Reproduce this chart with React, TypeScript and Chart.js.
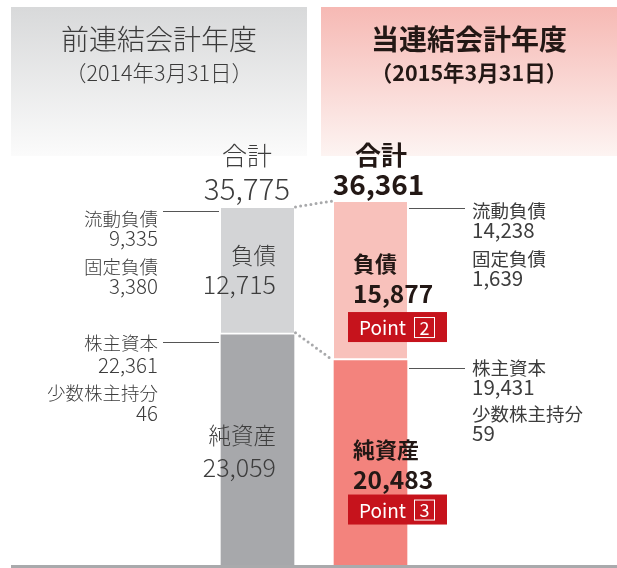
import React, { useEffect, useRef } from "react";
import { Chart, registerables } from "chart.js";

Chart.register(...registerables);

const periods = ["前連結会計年度", "当連結会計年度"];
const periodDates = ["（2014年3月31日）", "（2015年3月31日）"];
const liabilities = [12715, 15877];
const netAssets = [23059, 20483];
const totals = [35775, 36361];
const currentLiabilities = [9335, 14238];
const fixedLiabilities = [3380, 1639];
const shareholdersEquity = [22361, 19431];
const minorityInterests = [46, 59];
const pointNumbers = ["2", "3"];

const FONT = '"Noto Sans CJK JP", "Noto Sans", sans-serif';
const f = (size: number, weight = 400) => `${weight} ${size}px ${FONT}`;
const fmt = (n: number) => n.toLocaleString("en-US");

function txt(
  ctx: CanvasRenderingContext2D,
  s: string,
  x: number,
  y: number,
  font: string,
  color: string,
  align: CanvasTextAlign = "left"
) {
  ctx.save();
  ctx.font = font;
  ctx.fillStyle = color;
  ctx.textAlign = align;
  ctx.textBaseline = "middle";
  ctx.fillText(s, x, y);
  ctx.restore();
}

function hline(ctx: CanvasRenderingContext2D, x1: number, x2: number, y: number) {
  ctx.save();
  ctx.strokeStyle = "#555555";
  ctx.lineWidth = 1;
  ctx.beginPath();
  ctx.moveTo(x1, Math.round(y) + 0.5);
  ctx.lineTo(x2, Math.round(y) + 0.5);
  ctx.stroke();
  ctx.restore();
}

function dots(ctx: CanvasRenderingContext2D, x1: number, y1: number, x2: number, y2: number) {
  ctx.save();
  ctx.strokeStyle = "#a8a9ab";
  ctx.lineWidth = 3;
  ctx.lineCap = "round";
  ctx.setLineDash([0, 5.2]);
  ctx.beginPath();
  ctx.moveTo(x1, y1);
  ctx.lineTo(x2, y2);
  ctx.stroke();
  ctx.restore();
}

function pointBox(ctx: CanvasRenderingContext2D, x: number, y: number, num: string) {
  ctx.save();
  ctx.fillStyle = "#c6131c";
  ctx.fillRect(x, y, 99, 30);
  txt(ctx, "Point", x + 11, y + 16, f(19), "#ffffff");
  ctx.strokeStyle = "#ffffff";
  ctx.lineWidth = 1;
  ctx.strokeRect(x + 66.5, y + 5.5, 20, 20);
  txt(ctx, num, x + 76.5, y + 16, f(18), "#ffffff", "center");
  ctx.restore();
}

const decorPlugin = {
  id: "decor",
  beforeDraw(chart: any) {
    const ctx = chart.ctx as CanvasRenderingContext2D;
    const top = 7;
    const bottom = 156;
    let g = ctx.createLinearGradient(0, top, 0, bottom);
    g.addColorStop(0, "#d8d9da");
    g.addColorStop(1, "#fbfbfb");
    ctx.fillStyle = g;
    ctx.fillRect(11, top, 296, bottom - top);
    g = ctx.createLinearGradient(0, top, 0, bottom);
    g.addColorStop(0, "#f6b9b4");
    g.addColorStop(1, "#fdf4f2");
    ctx.fillStyle = g;
    ctx.fillRect(321, top, 296, bottom - top);

    txt(ctx, periods[0], 159, 39, f(28, 300), "#3a3a3a", "center");
    txt(ctx, periodDates[0], 159, 73, f(21.5, 300), "#3a3a3a", "center");
    txt(ctx, periods[1], 469, 39, f(28, 700), "#231815", "center");
    txt(ctx, periodDates[1], 469, 73, f(21.5, 700), "#231815", "center");
  },
  afterDatasetsDraw(chart: any) {
    const ctx = chart.ctx as CanvasRenderingContext2D;
    const na = chart.getDatasetMeta(0).data;
    const li = chart.getDatasetMeta(1).data;
    const area = chart.chartArea;

    // baseline
    ctx.save();
    ctx.fillStyle = "#a9aaac";
    ctx.fillRect(11, area.bottom, 606, 3);
    ctx.restore();

    const bars = [0, 1].map((i) => {
      const w = li[i].width;
      return {
        cx: li[i].x,
        left: li[i].x - w / 2,
        right: li[i].x + w / 2,
        top: li[i].y,
        split: na[i].y,
      };
    });
    const L = bars[0];
    const R = bars[1];

    // connectors
    dots(ctx, L.right + 1.5, L.top - 1, R.left - 2, R.top - 1);
    dots(ctx, L.right + 1.5, L.split - 2, R.left - 2, R.split - 1);

    const grey = "#3d3d3d";
    const dark = "#231815";

    // Left (previous year)
    txt(ctx, "合計", L.cx - 10.5, L.top - 52, f(25, 300), grey, "center");
    txt(ctx, fmt(totals[0]), L.cx - 10.5, L.top - 19, f(29.5, 300), grey, "center");
    const lx = L.left - 63;
    hline(ctx, L.left - 58, L.left - 2, L.top + 3);
    txt(ctx, "流動負債", lx, L.top + 11, f(18.5, 300), grey, "right");
    txt(ctx, fmt(currentLiabilities[0]), lx, L.top + 30, f(20.5, 300), grey, "right");
    txt(ctx, "固定負債", lx, L.top + 59, f(18.5, 300), grey, "right");
    txt(ctx, fmt(fixedLiabilities[0]), lx, L.top + 78, f(20.5, 300), grey, "right");
    txt(ctx, "負債", L.right - 18, L.top + 48, f(22.5, 300), grey, "right");
    txt(ctx, fmt(liabilities[0]), L.right - 18, L.top + 77, f(25, 300), grey, "right");

    hline(ctx, L.left - 58, L.left - 2, L.split + 7);
    txt(ctx, "株主資本", lx, L.split + 8, f(18.5, 300), grey, "right");
    txt(ctx, fmt(shareholdersEquity[0]), lx, L.split + 30, f(20.5, 300), grey, "right");
    txt(ctx, "少数株主持分", lx, L.split + 58, f(18.5, 300), grey, "right");
    txt(ctx, fmt(minorityInterests[0]), lx, L.split + 78, f(20.5, 300), grey, "right");
    txt(ctx, "純資産", L.right - 18, L.split + 101, f(22.5, 300), grey, "right");
    txt(ctx, fmt(netAssets[0]), L.right - 18, L.split + 133, f(25, 300), grey, "right");

    // Right (current year)
    txt(ctx, "合計", R.cx + 10.5, R.top - 47, f(26, 700), dark, "center");
    txt(ctx, fmt(totals[1]), R.cx + 8, R.top - 18, f(28, 700), dark, "center");
    const rx = R.right + 65;
    hline(ctx, R.right + 2, R.right + 58, R.top + 6);
    txt(ctx, "流動負債", rx, R.top + 9, f(18.5, 400), grey);
    txt(ctx, fmt(currentLiabilities[1]), rx, R.top + 28, f(20.5, 400), grey);
    txt(ctx, "固定負債", rx, R.top + 57, f(18.5, 400), grey);
    txt(ctx, fmt(fixedLiabilities[1]), rx, R.top + 76, f(20.5, 400), grey);
    txt(ctx, "負債", R.left + 19, R.top + 62, f(22, 700), dark);
    txt(ctx, fmt(liabilities[1]), R.left + 19, R.top + 92, f(24.5, 700), dark);
    pointBox(ctx, R.left + 14, R.top + 110, pointNumbers[0]);

    hline(ctx, R.right + 2, R.right + 58, R.split + 7);
    txt(ctx, "株主資本", rx, R.split + 7, f(18.5, 400), grey);
    txt(ctx, fmt(shareholdersEquity[1]), rx, R.split + 27, f(20.5, 400), grey);
    txt(ctx, "少数株主持分", rx, R.split + 53, f(18.5, 400), grey);
    txt(ctx, fmt(minorityInterests[1]), rx, R.split + 73, f(20.5, 400), grey);
    txt(ctx, "純資産", R.left + 19, R.split + 89, f(22, 700), dark);
    txt(ctx, fmt(netAssets[1]), R.left + 19, R.split + 119, f(24.5, 700), dark);
    pointBox(ctx, R.left + 14, R.split + 134, pointNumbers[1]);
  },
};

export default function App() {
  const ref = useRef<HTMLCanvasElement>(null);
  useEffect(() => {
    if (!ref.current) return;
    const chart = new Chart(ref.current, {
      type: "bar",
      data: {
        labels: periods,
        datasets: [
          {
            label: "純資産",
            data: netAssets,
            backgroundColor: ["#a7a8ab", "#f3837d"],
            borderWidth: 0,
            barThickness: 73,
            stack: "s",
          },
          {
            label: "負債",
            data: liabilities,
            backgroundColor: ["#d3d4d6", "#f8c1bb"],
            borderColor: "#ffffff",
            borderWidth: { top: 0, left: 0, right: 0, bottom: 2.5 },
            borderSkipped: false,
            barThickness: 73,
            stack: "s",
          },
        ],
      },
      options: {
        animation: false,
        responsive: false,
        devicePixelRatio: 1,
        layout: { padding: { left: 201, right: 190, top: 0, bottom: 3 } },
        scales: {
          x: { stacked: true, display: false },
          y: { stacked: true, display: false, min: 0, max: 56600 },
        },
        plugins: { legend: { display: false }, tooltip: { enabled: false } },
      },
      plugins: [decorPlugin],
    } as any);
    return () => chart.destroy();
  }, []);
  return (
    <div style={{ position: "absolute", left: 0, top: 0, width: 617, height: 568 }}>
      <canvas ref={ref} width={617} height={568} style={{ display: "block" }} />
    </div>
  );
}
